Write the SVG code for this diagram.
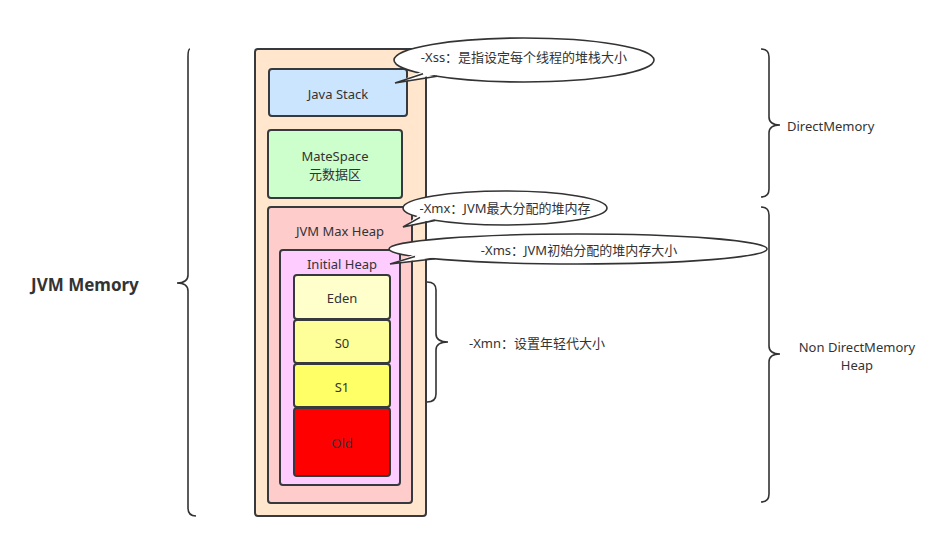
<svg xmlns="http://www.w3.org/2000/svg" width="951" height="541" viewBox="0 0 951 541">
<style>
.box{stroke:#36393d;stroke-width:2}
.brace{fill:none;stroke:#333;stroke-width:1.6}
.call{fill:#fff;stroke:#333;stroke-width:1.6}
.tail{fill:#fff;stroke:none}
.tedge{fill:none;stroke:#333;stroke-width:1.6}
text{font-family:"Noto Sans","Noto Sans CJK SC",sans-serif;font-size:13px;fill:#333;text-anchor:middle;dominant-baseline:central}
.lab{text-anchor:start}
</style>
<rect width="951" height="541" fill="#fff"/>
<g id="jvm-memory-outer">
<rect class="box" x="255" y="49" width="171" height="467" rx="3" fill="#ffe6cc"/>
</g>
<g id="java-stack">
<rect class="box" x="269" y="69" width="138" height="47" rx="3" fill="#cce5ff"/>
<text x="338" y="94">Java Stack</text>
</g>
<g id="matespace">
<rect class="box" x="268" y="130" width="134" height="68" rx="3" fill="#ccffcc"/>
<text x="335" y="156">MateSpace</text>
<text x="335" y="174">元数据区</text>
</g>
<g id="max-heap">
<rect class="box" x="268" y="207" width="144" height="296" rx="3" fill="#ffcccc"/>
<text x="340" y="231">JVM Max Heap</text>
</g>
<g id="initial-heap">
<rect class="box" x="280" y="250" width="120" height="235" rx="3" fill="#ffccff"/>
<text x="342" y="264">Initial Heap</text>
</g>
<g id="eden">
<rect class="box" x="294" y="275" width="96" height="44" rx="3" fill="#ffffcc"/>
<text x="342" y="298">Eden</text>
</g>
<g id="s0">
<rect class="box" x="294" y="320" width="96" height="43" rx="3" fill="#ffff99"/>
<text x="342" y="343">S0</text>
</g>
<g id="s1">
<rect class="box" x="294" y="364" width="96" height="43" rx="3" fill="#ffff66"/>
<text x="342" y="387">S1</text>
</g>
<g id="old">
<rect class="box" x="294" y="408" width="96" height="68" rx="3" fill="#ff0000"/>
<text x="342" y="443">Old</text>
</g>
<g id="connectors">
<path class="brace" d="M190,49 Q188,49 188,57 L188,275 Q188,283 177,283 Q188,283 188,291 L188,508 Q188,516 196,516"/>
<path class="brace" d="M761,49 Q769,49 769,57 L769,117 Q769,125 780,125 Q769,125 769,133 L769,189 Q769,197 761,197"/>
<path class="brace" d="M761,207 Q769,207 769,215 L769,346 Q769,354 780,354 Q769,354 769,362 L769,494 Q769,502 761,502"/>
<path class="brace" d="M427,282 Q436,282 436,290 L436,334 Q436,342 448,342 Q436,342 436,350 L436,394 Q436,402 427,402"/>
</g>
<g id="xss-callout">
<ellipse class="call" cx="524" cy="60" rx="130" ry="22"/>
<polygon class="tail" points="421,72 439,74 395,83"/>
<polyline class="tedge" points="423,73.8 395,83 437,76.3"/>
<text x="524" y="57">-Xss：是指设定每个线程的堆栈大小</text>
</g>
<g id="xmx-callout">
<ellipse class="call" cx="505" cy="208" rx="102" ry="17"/>
<polygon class="tail" points="418,215.5 437,218.5 403,227"/>
<polyline class="tedge" points="420,217.4 403,227 435,220.4"/>
<text x="505" y="208">-Xmx：JVM最大分配的堆内存</text>
</g>
<g id="xms-callout">
<ellipse class="call" cx="578" cy="249" rx="189" ry="15"/>
<polygon class="tail" points="413,255 437,257 390,264"/>
<polyline class="tedge" points="415,256.6 390,264 435,258.8"/>
<text x="579" y="250">-Xms：JVM初始分配的堆内存大小</text>
</g>
<g id="labels">
<text class="lab" x="469" y="343">-Xmn：设置年轻代大小</text>
<text class="lab" x="787" y="126">DirectMemory</text>
<text x="857" y="347">Non DirectMemory</text>
<text x="857" y="365">Heap</text>
<text class="lab" x="31" y="284" style="font-size:17px;font-weight:bold">JVM Memory</text>
</g>
</svg>
